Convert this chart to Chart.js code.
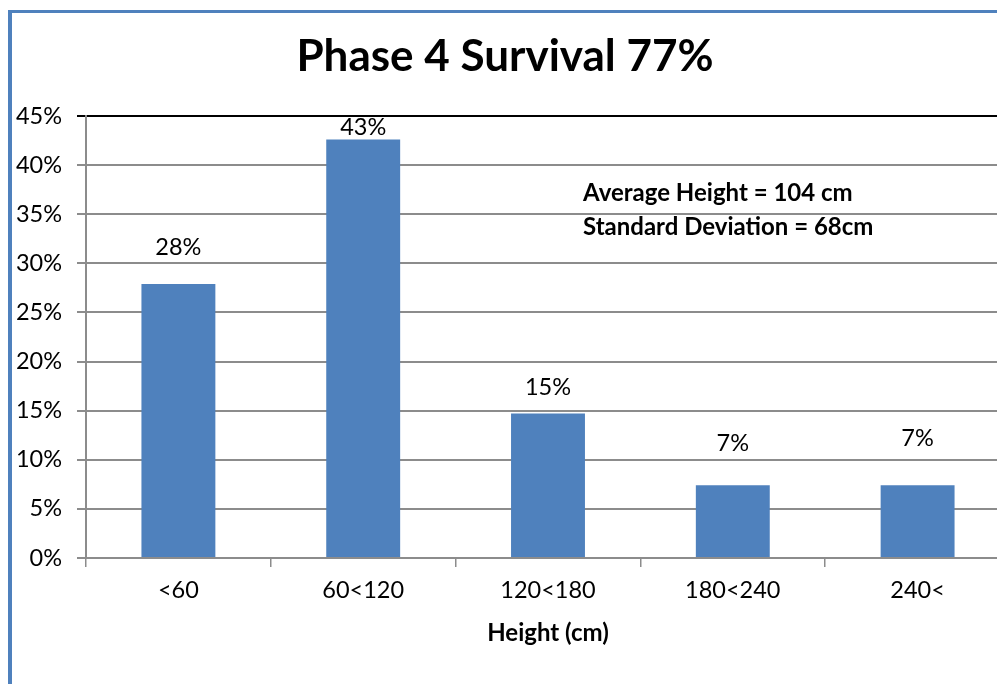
<!DOCTYPE html>
<html>
<head>
<meta charset="utf-8">
<script src="https://cdn.jsdelivr.net/npm/chart.js@4.4.1/dist/chart.umd.min.js"></script>
<style>
  html, body { margin: 0; padding: 0; background: #ffffff; overflow: hidden; width: 997px; height: 684px; }
  #frame {
    position: absolute; left: 8px; top: 10px; width: 1100px; height: 700px;
    border-left: 4px solid #4f81bd; border-top: 3px solid #4f81bd;
  }
  #wrap { position: absolute; left: 0; top: 0; width: 1010px; height: 684px; }
</style>
</head>
<body>
<div id="frame"></div>
<div id="wrap"><canvas id="c" width="1010" height="684"></canvas></div>
<script>
// Height classes of surviving trees (cm)
const categories = ['<60', '60<120', '120<180', '180<240', '240<'];
// Share of surviving trees in each height class (%)
const shares = [27.9, 42.6, 14.7, 7.4, 7.4];
// Value axis ticks (%)
const yTicks = [0, 5, 10, 15, 20, 25, 30, 35, 40, 45];
const titleText = 'Phase 4 Survival 77%';
const xAxisTitle = 'Height (cm)';
const statsLines = ['Average Height = 104 cm', 'Standard Deviation = 68cm'];

const FONT = 'Lato, "Open Sans", sans-serif';
const BAR = '#4f81bd';
const GRID = '#8c8c8c';

// Value labels above the bars, lifted by a per-bar gap
const valueLabels = {
  id: 'valueLabels',
  afterDatasetsDraw(chart, args, opts) {
    const { ctx } = chart;
    const meta = chart.getDatasetMeta(0);
    ctx.save();
    ctx.font = '23.5px ' + FONT;
    ctx.fillStyle = '#000';
    ctx.textAlign = 'center';
    ctx.textBaseline = 'middle';
    meta.data.forEach((bar, i) => {
      const v = chart.data.datasets[0].data[i];
      ctx.fillText(Math.round(v) + '%', bar.x, bar.y - opts.gaps[i]);
    });
    ctx.restore();
  }
};

// Summary statistics written inside the plot area
const statsNote = {
  id: 'statsNote',
  afterDraw(chart, args, opts) {
    const { ctx } = chart;
    ctx.save();
    ctx.font = 'bold 24px ' + FONT;
    ctx.fillStyle = '#000';
    ctx.textAlign = 'left';
    ctx.textBaseline = 'middle';
    statsLines.forEach((t, i) => ctx.fillText(t, opts.x, opts.y + i * opts.step));
    ctx.restore();
  }
};

new Chart(document.getElementById('c'), {
  type: 'bar',
  data: {
    labels: categories,
    datasets: [{
      data: shares,
      backgroundColor: BAR,
      borderWidth: 0,
      categoryPercentage: 1,
      barPercentage: 0.4
    }]
  },
  options: {
    responsive: false,
    animation: false,
    events: [],
    layout: { padding: { left: 0, right: 0, top: 0, bottom: 0 } },
    plugins: {
      legend: { display: false },
      tooltip: { enabled: false },
      title: {
        display: true,
        text: titleText,
        color: '#000',
        font: { family: FONT, size: 44, weight: 'bold', lineHeight: 1.2 },
        padding: { top: 30, bottom: 116 - 30 - 44 * 1.2 }
      },
      valueLabels: { gaps: [37, 12, 26, 42, 47] },
      statsNote: { x: 583, y: 193, step: 34 }
    },
    scales: {
      x: {
        grid: {
          offset: true,
          drawOnChartArea: false,
          drawTicks: true,
          tickLength: 9,
          color: GRID,
          lineWidth: 1.5
        },
        border: { color: GRID, width: 2 },
        ticks: { color: '#000', font: { family: FONT, size: 23.5 }, padding: 9 },
        title: {
          display: true,
          text: xAxisTitle,
          color: '#000',
          font: { family: FONT, size: 24, weight: 'bold', lineHeight: 1.2 },
          padding: { top: 8, bottom: 684 - 633 - 12 * 1.2 }
        },
        afterFit(scale) { scale.height = 684 - 558; }
      },
      y: {
        min: 0,
        max: 45,
        afterBuildTicks(scale) { scale.ticks = yTicks.map(v => ({ value: v })); },
        grid: {
          drawTicks: true,
          tickLength: 9,
          lineWidth: 2,
          color: ctx => (ctx.tick && ctx.tick.value === 45 ? '#000' : GRID)
        },
        border: { color: GRID, width: 2 },
        ticks: {
          color: '#000',
          font: { family: FONT, size: 23.5 },
          padding: 15,
          callback: v => v + '%'
        },
        afterFit(scale) { scale.width = 86; }
      }
    }
  },
  plugins: [valueLabels, statsNote]
});
</script>
</body>
</html>
